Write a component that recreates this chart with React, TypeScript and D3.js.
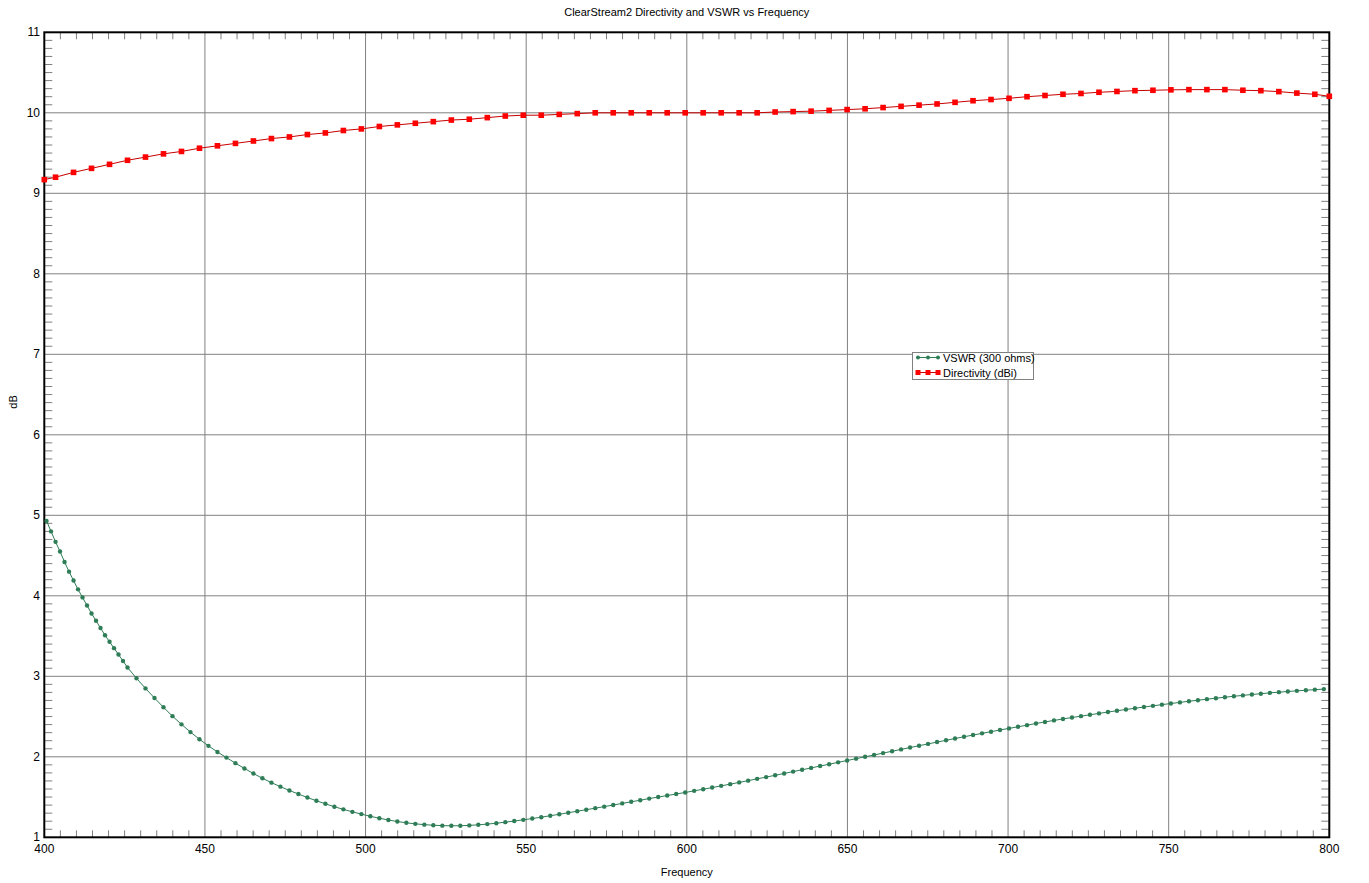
import React from 'react';
import * as d3 from 'd3';

const W = 1369;
const H = 883;
const PLOT = { left: 44.3, right: 1329.3, top: 32.3, bottom: 837.3 };

const TITLE = 'ClearStream2 Directivity and VSWR vs Frequency';
const X_LABEL = 'Frequency';
const Y_LABEL = 'dB';

const xMajorTicks = [400, 450, 500, 550, 600, 650, 700, 750, 800];
const yMajorTicks = [1, 2, 3, 4, 5, 6, 7, 8, 9, 10, 11];

// Sampling grid of the solver (dense near 400 MHz, then 2.8 MHz steps)
const vswrFreqDense = d3.range(19).map((i) => 400.7 + 1.4 * i);
const vswrFreqCoarse = d3.range(133).map((k) => 428.7 + 2.8 * k);
const vswrFreq = [...vswrFreqDense, ...vswrFreqCoarse];

const vswrValues = [
  4.93, 4.80, 4.67, 4.55, 4.42, 4.30, 4.19, 4.08, 3.98, 3.88,
  3.78, 3.69, 3.60, 3.51, 3.43, 3.35, 3.27, 3.19, 3.11,
  2.975, 2.850, 2.730, 2.615, 2.505, 2.403, 2.307, 2.218, 2.136, 2.060,
  1.990, 1.921, 1.855, 1.792, 1.733, 1.679, 1.629, 1.582, 1.537, 1.494,
  1.454, 1.416, 1.380, 1.347, 1.316, 1.288, 1.261, 1.237, 1.215, 1.196,
  1.180, 1.167, 1.157, 1.150, 1.145, 1.143, 1.144, 1.148, 1.155, 1.164,
  1.175, 1.188, 1.202, 1.217, 1.233, 1.250, 1.268, 1.286, 1.305, 1.324,
  1.343, 1.362, 1.381, 1.401, 1.421, 1.441, 1.461, 1.481, 1.500, 1.519,
  1.538, 1.557, 1.577, 1.597, 1.618, 1.639, 1.660, 1.682, 1.704, 1.726,
  1.748, 1.770, 1.793, 1.816, 1.839, 1.862, 1.885, 1.908, 1.931, 1.954,
  1.977, 2.000, 2.023, 2.046, 2.069, 2.092, 2.115, 2.138, 2.160, 2.183,
  2.205, 2.227, 2.249, 2.270, 2.291, 2.312, 2.333, 2.353, 2.373, 2.393,
  2.414, 2.433, 2.452, 2.470, 2.488, 2.505, 2.522, 2.539, 2.556, 2.572,
  2.588, 2.603, 2.618, 2.633, 2.648, 2.662, 2.676, 2.690, 2.703, 2.716,
  2.728, 2.740, 2.752, 2.763, 2.774, 2.784, 2.794, 2.803, 2.811, 2.819,
  2.827, 2.834, 2.841,
];

const dirFreq = [400, ...d3.range(71).map((j) => 403.5 + 5.6 * j), 800];
const dirValues = [
  9.17, 9.20, 9.26, 9.31, 9.36, 9.41, 9.45, 9.49, 9.52, 9.56,
  9.59, 9.62, 9.65, 9.68, 9.70, 9.73, 9.75, 9.78, 9.80, 9.83,
  9.85, 9.87, 9.89, 9.91, 9.92, 9.94, 9.96, 9.97, 9.97, 9.98,
  9.99, 10.0, 10.0, 10.0, 10.0, 10.0, 10.0, 10.0, 10.0, 10.0,
  10.0, 10.01, 10.015, 10.02, 10.03, 10.04, 10.05, 10.065, 10.08, 10.095,
  10.11, 10.13, 10.15, 10.165, 10.18, 10.2, 10.215, 10.23, 10.24, 10.255,
  10.265, 10.275, 10.28, 10.285, 10.288, 10.288, 10.288, 10.28, 10.275, 10.263,
  10.245, 10.23, 10.205,
];

const seriesNames = ['VSWR (300 ohms)', 'Directivity (dBi)'];

const GREEN = '#2e7d57';
const RED_LINE = '#c80000';
const RED_MARK = '#ff0000';
const GRID = '#808080';
const FONT = '"Liberation Sans", Arial, sans-serif';

export default function App() {
  const x = d3.scaleLinear().domain([400, 800]).range([PLOT.left, PLOT.right]);
  const y = d3.scaleLinear().domain([1, 11]).range([PLOT.bottom, PLOT.top]);

  const vswrPts = vswrFreq.map((f, i) => [f, vswrValues[i]] as [number, number]);
  const dirPts = dirFreq.map((f, i) => [f, dirValues[i]] as [number, number]);

  const line = d3
    .line<[number, number]>()
    .x((d) => x(d[0]))
    .y((d) => y(d[1]));

  const xMinor = d3.range(400, 800.001, 5).filter((v) => !xMajorTicks.includes(Math.round(v)));
  const yMinor = d3.range(10, 110.001, 1).map((v) => v / 10).filter((v) => Math.abs(v - Math.round(v)) > 1e-6);

  const legendX = 912.5;
  const legendY = 352.5;
  const legendW = 121;
  const legendH = 27;

  return (
    <svg
      width={W}
      height={H}
      style={{ position: 'absolute', left: 0, top: 0, background: '#fff' }}
      fontFamily={FONT}
    >
      <rect x={0} y={0} width={W} height={H} fill="#fff" />
      <text x={(PLOT.left + PLOT.right) / 2} y={16} fontSize={11} textAnchor="middle" fill="#000">
        {TITLE}
      </text>

      {/* grid */}
      {xMajorTicks.slice(1, -1).map((t) => (
        <line key={'gx' + t} x1={x(t)} x2={x(t)} y1={PLOT.top} y2={PLOT.bottom} stroke={GRID} strokeWidth={1} />
      ))}
      {yMajorTicks.slice(1, -1).map((t) => (
        <line key={'gy' + t} x1={PLOT.left} x2={PLOT.right} y1={y(t)} y2={y(t)} stroke={GRID} strokeWidth={1} />
      ))}

      {/* minor ticks */}
      {xMinor.map((t) => (
        <g key={'mx' + t}>
          <line x1={x(t)} x2={x(t)} y1={PLOT.bottom} y2={PLOT.bottom - 7} stroke={GRID} strokeWidth={1} />
          <line x1={x(t)} x2={x(t)} y1={PLOT.top} y2={PLOT.top + 7} stroke={GRID} strokeWidth={1} />
        </g>
      ))}
      {yMinor.map((t) => (
        <g key={'my' + t}>
          <line x1={PLOT.left} x2={PLOT.left + 8} y1={y(t)} y2={y(t)} stroke={GRID} strokeWidth={1} />
          <line x1={PLOT.right} x2={PLOT.right - 8} y1={y(t)} y2={y(t)} stroke={GRID} strokeWidth={1} />
        </g>
      ))}

      {/* frame */}
      <rect
        x={PLOT.left}
        y={PLOT.top}
        width={PLOT.right - PLOT.left}
        height={PLOT.bottom - PLOT.top}
        fill="none"
        stroke="#000"
        strokeWidth={2}
      />

      {/* tick labels */}
      {yMajorTicks.map((t) => (
        <text key={'yl' + t} x={40} y={y(t) + 4} fontSize={12} textAnchor="end" fill="#000">
          {t}
        </text>
      ))}
      {xMajorTicks.map((t) => (
        <text key={'xl' + t} x={x(t)} y={PLOT.bottom + 16} fontSize={12} textAnchor="middle" fill="#000">
          {t}
        </text>
      ))}

      <text x={(PLOT.left + PLOT.right) / 2} y={876} fontSize={11} textAnchor="middle" fill="#000">
        {X_LABEL}
      </text>
      <text transform="translate(17,402) rotate(-90)" fontSize={11} textAnchor="middle" fill="#000">
        {Y_LABEL}
      </text>

      {/* series */}
      <path d={line(vswrPts) || ''} fill="none" stroke={GREEN} strokeWidth={1} />
      {vswrPts.map((d, i) => (
        <circle key={'v' + i} cx={x(d[0])} cy={y(d[1])} r={2.2} fill={GREEN} />
      ))}
      <path d={line(dirPts) || ''} fill="none" stroke={RED_LINE} strokeWidth={1} />
      {dirPts.map((d, i) => (
        <rect key={'d' + i} x={x(d[0]) - 2.8} y={y(d[1]) - 2.8} width={5.6} height={5.6} fill={RED_MARK} />
      ))}

      {/* legend */}
      <rect x={legendX} y={legendY} width={legendW} height={legendH} fill="#fff" stroke={GRID} strokeWidth={1} />
      <g>
        <line x1={916} x2={940} y1={357.5} y2={357.5} stroke={GREEN} strokeWidth={1} />
        {[918, 928, 938].map((cx) => (
          <circle key={'lc' + cx} cx={cx} cy={357.5} r={2} fill={GREEN} />
        ))}
        <text x={943} y={361.5} fontSize={11} fill="#000">
          {seriesNames[0]}
        </text>
        <line x1={916} x2={940} y1={372.5} y2={372.5} stroke={RED_LINE} strokeWidth={1} />
        {[918, 928, 938].map((cx) => (
          <rect key={'lr' + cx} x={cx - 2.5} y={370} width={5} height={5} fill={RED_MARK} />
        ))}
        <text x={943} y={376.5} fontSize={11} fill="#000">
          {seriesNames[1]}
        </text>
      </g>
    </svg>
  );
}
